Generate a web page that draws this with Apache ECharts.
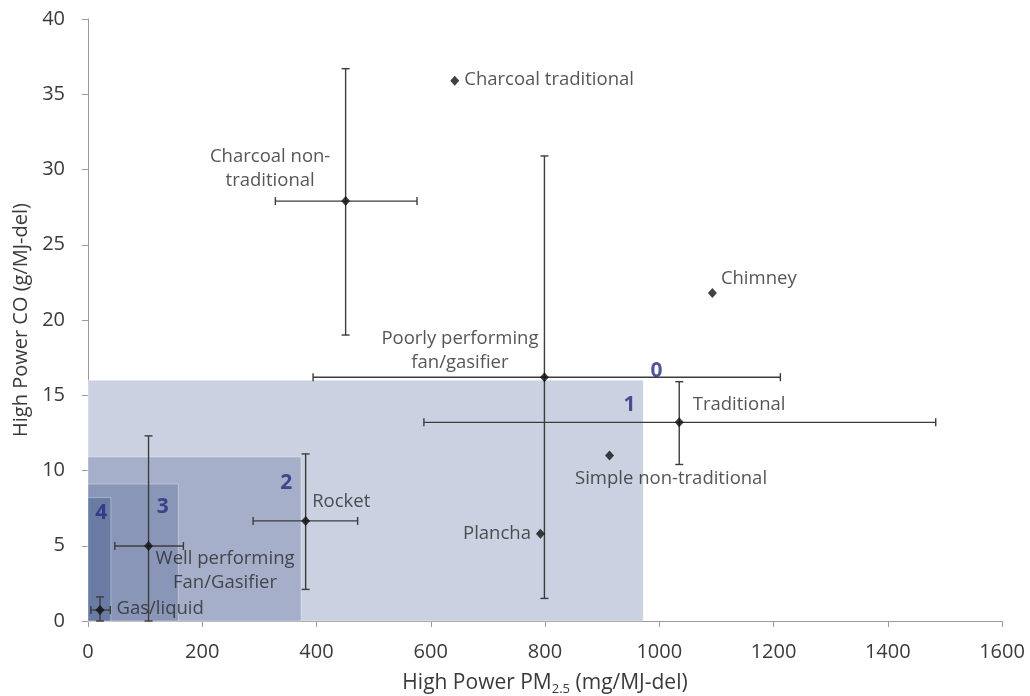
<!DOCTYPE html>
<html>
<head>
<meta charset="utf-8">
<script src="https://cdn.jsdelivr.net/npm/echarts@6/dist/echarts.min.js"></script>
<style>html,body{margin:0;padding:0;background:#fff;}#chart{width:1030px;height:696px;}</style>
</head>
<body>
<div id="chart"></div>
<script>
// ---- data ----
const stoves = ['Charcoal traditional', 'Charcoal non-\ntraditional', 'Chimney', 'Poorly performing\nfan/gasifier',
  'Traditional', 'Simple non-traditional', 'Plancha', 'Rocket', 'Well performing\nFan/Gasifier', 'Gas/liquid'];
const pm     = [642, 451, 1093, 799, 1035, 913, 792, 381, 106, 21];
const co     = [35.9, 27.9, 21.8, 16.2, 13.2, 11.0, 5.8, 6.65, 4.98, 0.73];
const pmLow  = [null, 328, null, 394, 588, null, null, 289, 47, 5];
const pmHigh = [null, 576, null, 1212, 1484, null, null, 472, 167, 39];
const coLow  = [null, 19.0, null, 1.5, 10.4, null, null, 2.1, 0, 0];
const coHigh = [null, 36.7, null, 30.9, 15.9, null, null, 11.1, 12.3, 1.6];

const tierNames = ['1', '2', '3', '4'];
const tierPmMax = [972, 373, 158, 40];
const tierCoMax = [16.0, 10.9, 9.1, 8.2];
const tierLabels = ['0', '1', '2', '3', '4'];
const tierLabelPm = [995, 948, 347, 131, 23];
const tierLabelCo = [16.6, 14.35, 9.2, 7.6, 7.2];

const xTicks = [0, 200, 400, 600, 800, 1000, 1200, 1400, 1600];
const yTicks = [0, 5, 10, 15, 20, 25, 30, 35, 40];

// ---- styles ----
const tierColors = ['#cbd1e0', '#a6afc9', '#8a96b7', '#6a7ca3'];
// label placement per point: [dx, dy, align]
const labelPlace = [
  [10, 0, 'left'], [-75, -31, 'center'], [9, -13, 'left'], [-84, -25, 'center'],
  [14, -17, 'left'], [62, 24, 'center'], [-9, 1, 'right'], [7, -18, 'left'],
  [77, 26, 'center'], [17, 0, 'left']
];

const chart = echarts.init(document.getElementById('chart'));
const font = 'Open Sans';

const pointData = stoves.map((n, i) => ({
  name: n,
  value: [pm[i], co[i]],
  label: {
    show: true,
    formatter: n,
    position: [4 + labelPlace[i][0], 4 + labelPlace[i][1]],
    align: labelPlace[i][2],
    verticalAlign: 'middle',
    fontFamily: font, fontSize: 18.5, color: '#2b2b2b', lineHeight: 24
  }
}));

const errData = [];
stoves.forEach((n, i) => {
  if (pmLow[i] !== null) errData.push([pm[i], co[i], pmLow[i], pmHigh[i], coLow[i], coHigh[i]]);
});

const tierData = tierNames.map((n, i) => [tierPmMax[i], tierCoMax[i], i]);

chart.setOption({
  animation: false,
  grid: { left: 88, right: 28, top: 19, bottom: 75, outerBoundsMode: 'none', containLabel: false },
  xAxis: {
    type: 'value', min: xTicks[0], max: xTicks[xTicks.length - 1], interval: xTicks[1] - xTicks[0],
    splitLine: { show: false },
    axisLine: { lineStyle: { color: '#9a9a9a', width: 1 } },
    axisTick: { show: true, length: 6, lineStyle: { color: '#9a9a9a' } },
    axisLabel: { fontFamily: font, fontSize: 20, color: '#3a3a3a', margin: 21,
      formatter: v => String(v) },
    name: '{a|High Power PM}{s|2.5}{a| (mg/MJ-del)}',
    nameLocation: 'middle', nameGap: 50,
    nameTextStyle: { rich: {
      a: { fontFamily: font, fontSize: 21, color: '#3a3a3a' },
      s: { fontFamily: font, fontSize: 13, color: '#3a3a3a', verticalAlign: 'bottom', padding: [12, 0, 0, 0] }
    } }
  },
  yAxis: {
    type: 'value', min: yTicks[0], max: yTicks[yTicks.length - 1], interval: yTicks[1] - yTicks[0],
    splitLine: { show: false },
    axisLine: { show: true, lineStyle: { color: '#9a9a9a', width: 1 } },
    axisTick: { show: true, length: 6, lineStyle: { color: '#9a9a9a' } },
    axisLabel: { fontFamily: font, fontSize: 20, color: '#3a3a3a', margin: 23,
      formatter: v => String(v) },
    name: 'High Power CO (g/MJ-del)',
    nameLocation: 'middle', nameGap: 55,
    nameTextStyle: { fontFamily: font, fontSize: 20, color: '#3a3a3a' }
  },
  series: [
    {
      type: 'custom', z: 1, silent: true,
      data: tierData,
      renderItem: function (params, api) {
        const p0 = api.coord([0, 0]);
        const p1 = api.coord([api.value(0), api.value(1)]);
        return {
          type: 'rect',
          shape: { x: p0[0], y: p1[1], width: p1[0] - p0[0], height: p0[1] - p1[1] },
          style: { fill: tierColors[api.value(2)], stroke: 'rgba(255,255,255,0.35)', lineWidth: 1 }
        };
      }
    },
    {
      type: 'scatter', z: 2, silent: true, symbolSize: 0,
      data: tierLabels.map((t, i) => ({ value: [tierLabelPm[i], tierLabelCo[i]], name: t })),
      label: { show: true, position: 'inside', formatter: '{b}', fontFamily: font,
        fontSize: 21, fontWeight: 'bold', color: '#262c80' }
    },
    {
      type: 'custom', z: 3, silent: true,
      data: errData,
      renderItem: function (params, api) {
        const c = api.coord([api.value(0), api.value(1)]);
        const xl = api.coord([api.value(2), api.value(1)]);
        const xh = api.coord([api.value(3), api.value(1)]);
        const yl = api.coord([api.value(0), api.value(4)]);
        const yh = api.coord([api.value(0), api.value(5)]);
        const cap = 4;
        const st = { stroke: '#3c3c3c', lineWidth: 1.4 };
        const L = (x1, y1, x2, y2) => ({ type: 'line', shape: { x1, y1, x2, y2 }, style: st });
        return {
          type: 'group',
          children: [
            L(xl[0], c[1], xh[0], c[1]),
            L(xl[0], c[1] - cap, xl[0], c[1] + cap),
            L(xh[0], c[1] - cap, xh[0], c[1] + cap),
            L(c[0], yl[1], c[0], yh[1]),
            L(c[0] - cap, yl[1], c[0] + cap, yl[1]),
            L(c[0] - cap, yh[1], c[0] + cap, yh[1])
          ]
        };
      }
    },
    {
      type: 'scatter', z: 4,
      symbol: 'diamond', symbolSize: [9, 10],
      itemStyle: { color: '#111' },
      data: pointData
    }
  ]
});
</script>
</body>
</html>
